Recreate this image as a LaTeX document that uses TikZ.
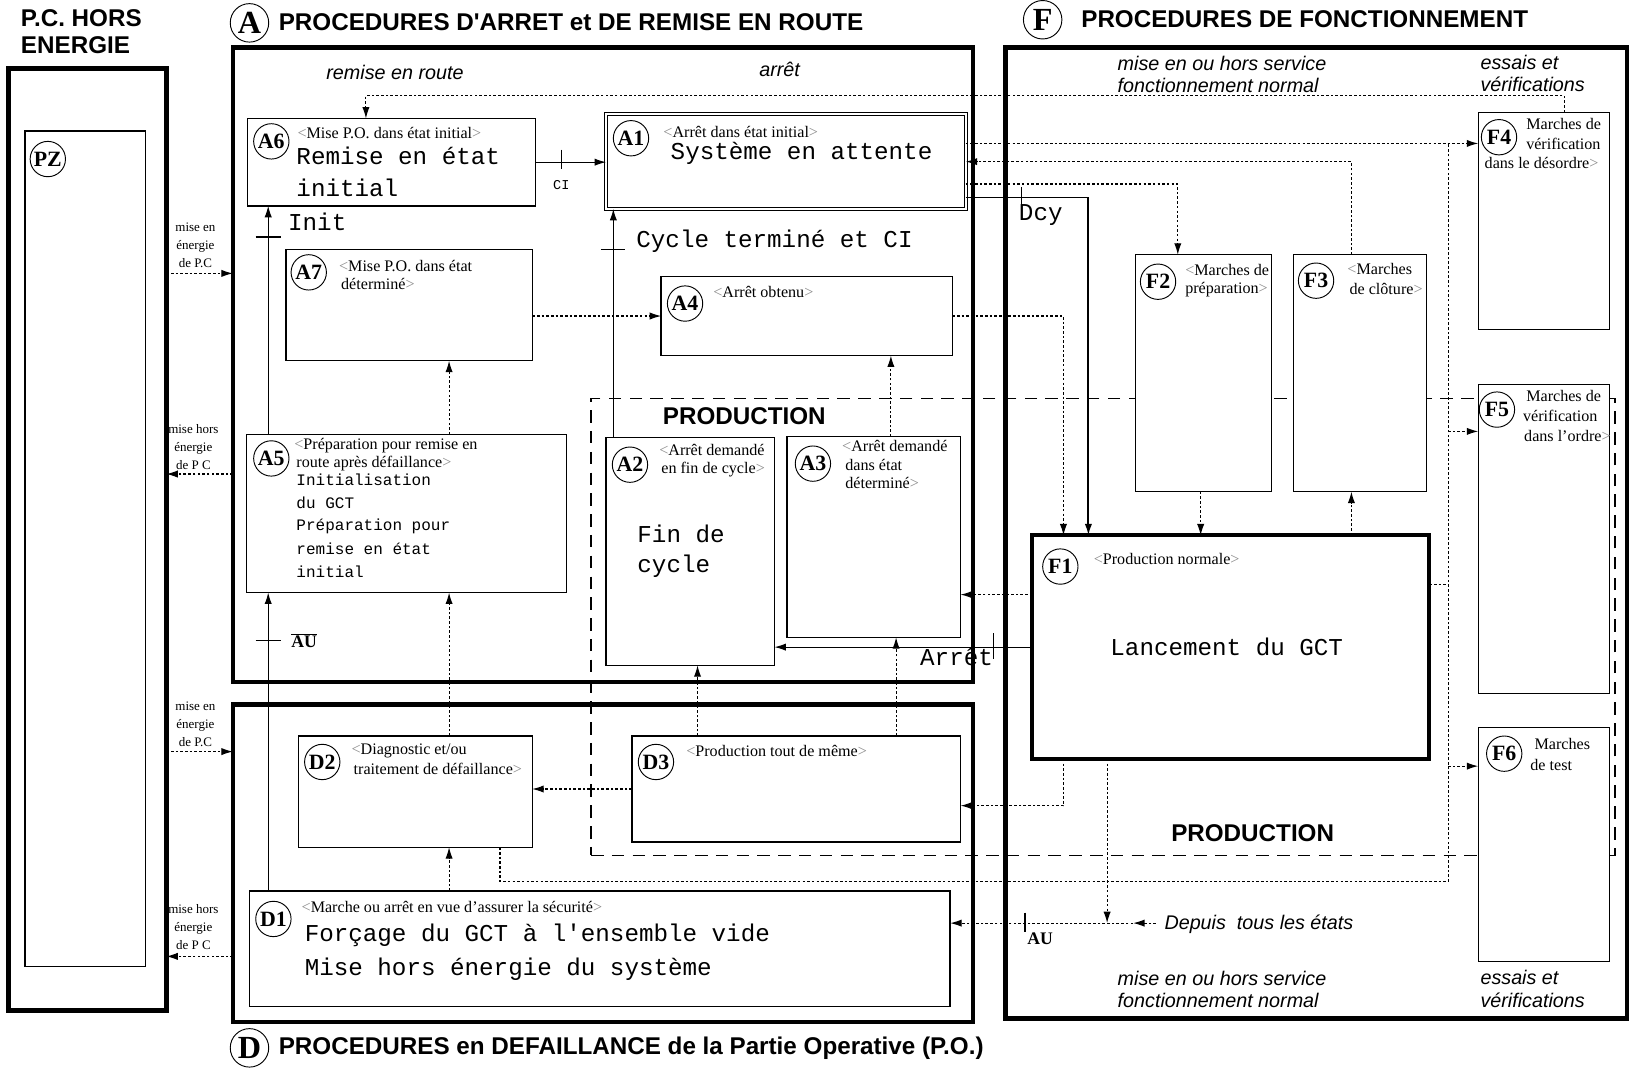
\documentclass[tikz,border=0pt]{standalone}
\usepackage{fontspec}
\setmainfont{Liberation Serif}
\newfontfamily\arialf{Liberation Sans}
\newfontfamily\courf{Liberation Mono}
\usetikzlibrary{arrows.meta,calc}
\newcommand\mko{\textcolor{black!45}{<}}
\newcommand\mkc{\textcolor{black!45}{>}}
\begin{document}
\begin{tikzpicture}[x=1pt,y=-1pt,
  frame/.style={draw, line width=4.5pt, inner sep=0, outer sep=0, anchor=north west},
  box/.style={draw, line width=1.3pt, fill=white, inner sep=0, outer sep=0, anchor=north west},
  circ/.style={circle, draw, line width=0.9pt, fill=white, minimum size=34pt, inner sep=0, font=\bfseries\fontsize{21}{21}\selectfont},
  bigc/.style={circle, draw, line width=0.9pt, fill=white, minimum size=37pt, inner sep=0, font=\bfseries\fontsize{31}{31}\selectfont},
  ttl/.style={font=\arialf\bfseries\fontsize{23.3}{26}\selectfont, anchor=west, inner sep=0},
  itl/.style={font=\arialf\itshape\fontsize{19}{21}\selectfont, anchor=west, inner sep=0},
  sml/.style={font=\fontsize{15.5}{18}\selectfont, anchor=west, inner sep=0},
  smc/.style={font=\fontsize{12.5}{17.5}\selectfont, align=center, inner sep=0},
  mono/.style={font=\courf\fontsize{23.3}{31}\selectfont, anchor=west, inner sep=0},
  monos/.style={font=\courf\fontsize{15.4}{22}\selectfont, anchor=west, inner sep=0},
  sl/.style={line width=1pt},
  dl/.style={line width=1.1pt, dash pattern=on 2.5pt off 2pt},
  tip/.style={-{Latex[length=11pt,width=7pt]}},
  tck/.style={line width=1pt}]
\useasboundingbox[fill=white] (0,0) rectangle (1568,1032);

% helper coordinates
\coordinate (k1) at (352,92);
\coordinate (k2) at (1505,92);
\coordinate (h138) at (0,138);
\coordinate (h177) at (0,177);
\coordinate (h190) at (0,190);
\coordinate (h263) at (0,263);
\coordinate (h415) at (0,415);
\coordinate (h456) at (0,456);
\coordinate (h562) at (0,562);
\coordinate (h572) at (0,572);
\coordinate (h723) at (0,723);
\coordinate (h737) at (0,737);
\coordinate (h775) at (0,775);
\coordinate (h848) at (0,848);
\coordinate (h888) at (0,888);
\coordinate (h920) at (0,920);
\coordinate (v258) at (258,0);
\coordinate (v432) at (432,0);
\coordinate (v481) at (481,0);
\coordinate (v590) at (590,0);
\coordinate (v671) at (671,0);
\coordinate (v857) at (857,0);
\coordinate (v862) at (862,0);
\coordinate (v1023) at (1023,0);
\coordinate (v1047) at (1047,0);
\coordinate (v1065) at (1065,0);
\coordinate (v1133) at (1133,0);
\coordinate (v1155) at (1155,0);
\coordinate (v1300) at (1300,0);
\coordinate (v1393) at (1393,0);
\coordinate (dep) at (1090,888);
\coordinate (dep0) at (1112,888);

% production zone
\node[draw, line width=1.2pt, dash pattern=on 12pt off 8pt, anchor=north west, minimum width=985pt, minimum height=439pt, inner sep=0] (prod) at (568,383) {};

% frames
\node[frame, minimum width=152pt, minimum height=906pt] (PZout) at (8,66) {};
\node[frame, minimum width=712pt, minimum height=610pt] (Aframe) at (224,46) {};
\node[frame, minimum width=712pt, minimum height=305pt] (Dframe) at (224,678) {};
\node[frame, minimum width=598pt, minimum height=934pt] (Fframe) at (967,46) {};

% boxes
\node[box, minimum width=116pt, minimum height=804pt] (PZ) at (24,126) {};
\node[box, minimum width=277pt, minimum height=84pt] (A6) at (238,114) {};
\node[box, double, line width=0.8pt, double distance=2pt, minimum width=346pt, minimum height=91pt] (A1) at (583,110) {};
\node[box, minimum width=237pt, minimum height=107pt] (A7) at (275,240) {};
\node[box, minimum width=280pt, minimum height=76pt] (A4) at (636,266) {};
\node[box, minimum width=308pt, minimum height=152pt] (A5) at (237,418) {};
\node[box, minimum width=162pt, minimum height=219pt] (A2) at (583,421) {};
\node[box, minimum width=167pt, minimum height=193pt] (A3) at (757,420) {};
\node[box, minimum width=225pt, minimum height=107pt] (D2) at (287,708) {};
\node[box, minimum width=316pt, minimum height=102pt] (D3) at (608,708) {};
\node[box, minimum width=674pt, minimum height=111pt] (D1) at (240,857) {};
\node[box, minimum width=131pt, minimum height=228pt] (F2) at (1092,245) {};
\node[box, minimum width=128pt, minimum height=228pt] (F3) at (1244,245) {};
\node[box, line width=4pt, minimum width=382pt, minimum height=215pt] (F1) at (993,515) {};
\node[box, minimum width=126pt, minimum height=209pt] (F4) at (1422,108) {};
\node[box, minimum width=126pt, minimum height=297pt] (F5) at (1422,370) {};
\node[box, minimum width=126pt, minimum height=225pt] (F6) at (1422,700) {};

% connectors
\draw[dl,tip] (F4.north -| k2) -- (k2) -- (k1) -- (k1 |- A6.north);
\draw[sl,tip] (A6.east) -- (A6.east -| A1.west);
\draw[tck] (540,144) -- (540,163);
\draw[dl,tip] (A1.east |- h138) -- (F4.west |- h138);
\draw[dl,tip] ([xshift=-8pt]F3.north) |- (A1.east);
\draw[dl,tip] (A1.east |- h177) -| (v1133 |- F2.north);
\draw[line width=1.8pt,tip] (A1.east |- h190) -| (v1047 |- F1.north);
\draw[tck] (983,180) -- (983,199);
\draw[dl,tip] (A4.east) -| (v1023 |- F1.north);
\draw[dl,tip] (A7.east |- A4.west) -- (A4.west);
\draw[dl,tip] (v432 |- A5.north) -- (v432 |- A7.south);
\draw[sl,tip] (v258 |- A5.north) -- (v258 |- A6.south);
\draw[tck] (246,228) -- (270,228);
\draw[sl,tip] (v590 |- A2.north) -- (v590 |- A1.south);
\draw[tck] (578,240) -- (601,240);
\draw[dl,tip] (v857 |- A3.north) -- (v857 |- A4.south);
\draw[sl,tip] (F1.west) -- (F1.west -| A2.east);
\draw[tck] (956,609) -- (956,634);
\draw[dl,tip] (F1.west |- h572) -- (A3.east |- h572);
\draw[dl,tip] (v862 |- D3.north) -- (v862 |- A3.south);
\draw[dl,tip] (v671 |- D3.north) -- (v671 |- A2.south);
\draw[dl,tip] (D3.west) -- (D3.west -| D2.east);
\draw[dl,tip] (v432 |- D1.north) -- (v432 |- D2.south);
\draw[dl,tip] (v432 |- D2.north) -- (v432 |- A5.south);
\draw[sl,tip] (v258 |- D1.north) -- (v258 |- A5.south);
\draw[tck] (246,616) -- (270,616);
\draw[dl] (v481 |- D2.south) |- (v1393 |- h848) -- (v1393 |- h138);
\draw[dl,tip] (v1393 |- h415) -- (F5.west |- h415);
\draw[dl,tip] (v1393 |- h737) -- (F6.west |- h737);
\draw[dl] (F1.east |- h562) -- (v1393 |- h562);
\draw[dl,tip] (v1023 |- F1.south) |- (D3.east |- h775);
\draw[dl,tip] (v1065 |- F1.south) -- (v1065 |- h888);
\draw[dl,tip] (dep) -- (D1.east |- dep);
\draw[dl,tip] (dep0) -- (dep);
\draw[tck] (986,878) -- (986,897);
\draw[dl,tip] (F2.south -| v1155) -- (v1155 |- F1.north);
\draw[dl,tip] (v1300 |- F1.north) -- (v1300 |- F3.south);
\draw[dl,tip] (PZout.east |- h263) -- (Aframe.west |- h263);
\draw[dl,tip] (Aframe.west |- h456) -- (PZout.east |- h456);
\draw[dl,tip] (PZout.east |- h723) -- (Dframe.west |- h723);
\draw[dl,tip] (Dframe.west |- h920) -- (PZout.east |- h920);

% circles
\node[circ] (cPZ) at (46,153) {PZ};
\node[circ] (cA6) at (261,136) {A6};
\node[circ] (cA1) at (607,133) {A1};
\node[circ] (cA7) at (297,262) {A7};
\node[circ] (cA4) at (659,292) {A4};
\node[circ] (cA5) at (261,441) {A5};
\node[circ] (cA2) at (606,447) {A2};
\node[circ] (cA3) at (782,446) {A3};
\node[circ] (cD2) at (310,733) {D2};
\node[circ] (cD3) at (631,733) {D3};
\node[circ] (cD1) at (263,884) {D1};
\node[circ] (cF1) at (1020,545) {F1};
\node[circ] (cF2) at (1114,271) {F2};
\node[circ] (cF3) at (1266,270) {F3};
\node[circ] (cF4) at (1442,132) {F4};
\node[circ] (cF5) at (1440,394) {F5};
\node[circ] (cF6) at (1447,725) {F6};
\node[bigc] (cA) at (240,22) {A};
\node[bigc] (cF) at (1003,19) {F};
\node[bigc] (cD) at (240,1008) {D};

% titles
\node[ttl] (tPC1) at (20,17) {P.C. HORS};
\node[ttl] (tPC2) at (20,43) {ENERGIE};
\node[ttl] (tA) at (268,21) {PROCEDURES D'ARRET et DE REMISE EN ROUTE};
\node[ttl] (tF) at (1040,18) {PROCEDURES DE FONCTIONNEMENT};
\node[ttl] (tD) at (268,1008) {PROCEDURES en DEFAILLANCE de la Partie Operative (P.O.)};
\node[ttl, anchor=center] (prod1) at (716,400) {PRODUCTION};
\node[ttl, anchor=center] (prod2) at (1205,801) {PRODUCTION};

% italic labels
\node[itl, anchor=center] (iRR) at (380,70) {remise en route};
\node[itl, anchor=center] (iAR) at (750,67) {arrêt};
\node[itl] (iF1) at (1075,61) {mise en ou hors service};
\node[itl] (iF2) at (1075,82) {fonctionnement normal};
\node[itl] (iF3) at (1424,60) {essais et};
\node[itl] (iF4) at (1424,81) {vérifications};
\node[itl] (iF5) at (1075,941) {mise en ou hors service};
\node[itl] (iF6) at (1075,962) {fonctionnement normal};
\node[itl] (iF7) at (1424,940) {essais et};
\node[itl] (iF8) at (1424,962) {vérifications};
\node[itl] (iDep) at (1120,889) {Depuis\ \ tous les états};

% PC energy labels
\node[smc] (e1) at (188,236) {mise en\\énergie\\de P.C};
\node[smc] (e2) at (186,430) {mise hors\\énergie\\de P C};
\node[smc] (e3) at (188,697) {mise en\\énergie\\de P.C};
\node[smc] (e4) at (186,892) {mise hors\\énergie\\de P C};

% small state labels
\node[sml] (lA6) at (286,128) {\mko Mise P.O. dans état initial\mkc};
\node[sml] (lA1) at (638,127) {\mko Arrêt dans état initial\mkc};
\node[sml] (lA7a) at (326,256) {\mko Mise P.O. dans état};
\node[sml] (lA7b) at (328,273) {déterminé\mkc};
\node[sml] (lA4) at (686,281) {\mko Arrêt obtenu\mkc};
\node[sml] (lA5a) at (283,429) {\mko Préparation pour remise en};
\node[sml] (lA5b) at (285,446) {route après défaillance\mkc};
\node[sml] (lA2a) at (634,433) {\mko Arrêt demandé};
\node[sml] (lA2b) at (636,452) {en fin de cycle\mkc};
\node[sml] (lA3a) at (810,429) {\mko Arrêt demandé};
\node[sml] (lA3b) at (813,447) {dans état};
\node[sml] (lA3c) at (813,465) {déterminé\mkc};
\node[sml] (lD2a) at (338,722) {\mko Diagnostic et/ou};
\node[sml] (lD2b) at (340,740) {traitement de défaillance\mkc};
\node[sml] (lD3) at (660,722) {\mko Production tout de même\mkc};
\node[sml] (lD1) at (290,872) {\mko Marche ou arrêt en vue d'assurer la sécurité\mkc};
\node[sml] (lF1) at (1052,538) {\mko Production normale\mkc};
\node[sml] (lF2a) at (1140,260) {\mko Marches de};
\node[sml] (lF2b) at (1140,279) {préparation\mkc};
\node[sml] (lF3a) at (1296,259) {\mko Marches};
\node[sml] (lF3b) at (1298,278) {de clôture\mkc};
\node[sml] (lF4a) at (1468,119) {Marches de};
\node[sml] (lF4b) at (1468,138) {vérification};
\node[sml] (lF4c) at (1428,157) {dans le désordre\mkc};
\node[sml] (lF5a) at (1468,381) {Marches de};
\node[sml] (lF5b) at (1465,400) {vérification};
\node[sml] (lF5c) at (1466,419) {dans l'ordre\mkc};
\node[sml] (lF6a) at (1476,716) {Marches};
\node[sml] (lF6b) at (1472,736) {de test};

% mono texts
\node[mono] (mA6a) at (285,150) {Remise en état};
\node[mono] (mA6b) at (285,181) {initial};
\node[mono] (mA1) at (645,148) {Système en attente};
\node[mono] (mInit) at (277,213) {Init};
\node[mono] (mCyc) at (612,232) {Cycle terminé et CI};
\node[monos] (mA5a) at (285,462) {Initialisation};
\node[monos] (mA5b) at (285,484) {du GCT};
\node[monos] (mA5c) at (285,506) {Préparation pour};
\node[monos] (mA5d) at (285,528) {remise en état};
\node[monos] (mA5e) at (285,550) {initial};
\node[mono] (mA2a) at (613,514) {Fin de};
\node[mono] (mA2b) at (613,545) {cycle};
\node[mono] (mF1) at (1068,622) {Lancement du GCT};
\node[mono] (mArr) at (885,632) {Arrêt};
\node[mono] (mDcy) at (980,207) {Dcy};
\node[mono] (mD1a) at (293,900) {Forçage du GCT à l'ensemble vide};
\node[mono] (mD1b) at (293,932) {Mise hors énergie du système};
\node[font=\courf\fontsize{13}{13}\selectfont, inner sep=0] (mCI) at (540,178) {CI};
\node[font=\bfseries\fontsize{17}{17}\selectfont, anchor=west, inner sep=0] (lAUb) at (280,616) {$\overline{\hbox{\bfseries AU}}$};
\node[font=\bfseries\fontsize{17}{17}\selectfont, anchor=west, inner sep=0] (lAU) at (988,903) {AU};
\end{tikzpicture}
\end{document}
